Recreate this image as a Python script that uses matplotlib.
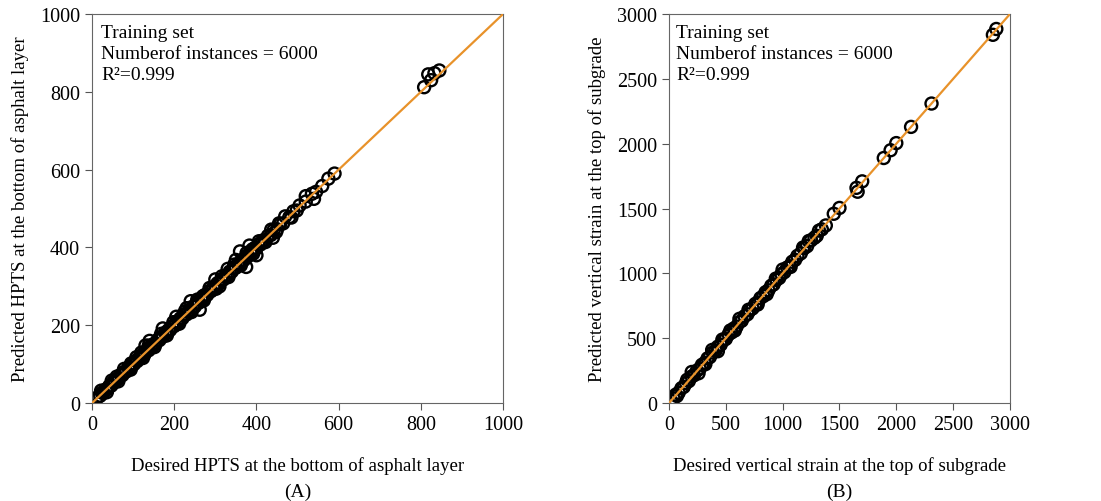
import matplotlib.pyplot as plt

plt.rcParams['font.family'] = ['Liberation Serif', 'DejaVu Serif']

# panel A: HPTS (desired vs predicted)
desired_a = [10, 15, 20, 24, 28, 33, 38, 42, 47, 52, 56, 60, 65, 70, 74, 78, 83, 88, 92, 97,
             102, 106, 110, 115, 120, 124, 128, 133, 138, 142, 146, 150, 155, 160, 164, 168,
             173, 178, 182, 186, 190, 195, 200, 205, 210, 215, 220, 225, 230, 235, 240, 245,
             250, 255, 260, 265, 270, 275, 280, 285, 290, 295, 300, 305, 310, 315, 320, 325,
             330, 335, 340, 345, 350, 355, 360, 365, 370, 375, 380, 385, 390, 395, 400, 405,
             410, 415, 420, 428, 435, 442, 450, 458, 465, 480, 490, 498, 505, 520, 535, 545,
             560, 575, 590,
             130, 140, 172, 205, 240, 262, 270, 300, 330, 360, 375, 390, 400, 383, 440, 455,
             520, 540, 120, 95, 60, 230, 310, 350,
             22, 36, 48, 64, 78, 94, 108, 124, 138, 152, 168, 182, 198, 212, 226, 242, 256,
             272, 286, 302, 316, 332, 346, 362, 376, 392, 406, 422, 436, 448, 470, 485,
             808, 818, 825, 833, 845]
predicted_a = [12, 16, 19, 27, 26, 35, 36, 44, 45, 55, 54, 62, 63, 73, 72, 80, 81, 91, 90, 99,
               100, 109, 108, 117, 118, 127, 126, 135, 136, 145, 144, 152, 153, 163, 162, 170,
               171, 181, 180, 188, 188, 198, 198, 208, 208, 218, 218, 228, 228, 238, 238, 248,
               248, 258, 258, 268, 268, 278, 278, 288, 288, 298, 298, 308, 308, 318, 318, 328,
               328, 338, 338, 348, 348, 358, 358, 368, 368, 378, 378, 388, 388, 398, 398, 408,
               408, 418, 418, 430, 432, 445, 447, 460, 462, 478, 493, 495, 508, 518, 538, 543,
               558, 577, 590,
               148, 160, 192, 222, 262, 240, 275, 318, 345, 390, 350, 395, 380, 405, 425, 462,
               532, 525, 130, 102, 68, 244, 300, 368,
               32, 28, 58, 56, 88, 86, 118, 116, 148, 144, 178, 174, 208, 204, 236, 234, 266,
               264, 296, 294, 326, 324, 356, 354, 386, 384, 416, 414, 446, 440, 480, 477,
               812, 845, 830, 848, 855]

# panel B: vertical strain (desired vs predicted)
desired_b = [15, 40, 60, 85, 110, 130, 150, 175, 200, 220, 245, 270, 290, 315, 340, 360, 385,
             410, 430, 455, 480, 500, 525, 550, 570, 595, 620, 640, 665, 690, 710, 735, 760,
             780, 805, 830, 850, 875, 900, 920, 945, 970, 990, 1015, 1040, 1060, 1085, 1110,
             1130, 1160, 1190, 1215, 1250, 1280, 1320, 1345, 1380, 1450, 1500, 1650, 1700,
             1890, 1950, 2000, 2130, 2310, 2850, 2880,
             200, 260, 380, 430, 540, 620, 780, 1000, 1180, 1300, 1660,
             70, 160, 320, 470, 580, 700, 860, 940, 1070, 1230]
predicted_b = [20, 35, 65, 80, 115, 125, 155, 170, 205, 215, 250, 265, 295, 310, 345, 355, 390,
               405, 435, 450, 485, 495, 530, 545, 575, 590, 625, 635, 670, 685, 715, 730, 765,
               775, 810, 825, 855, 870, 905, 915, 950, 965, 995, 1010, 1045, 1055, 1090, 1105,
               1135, 1155, 1195, 1210, 1255, 1275, 1330, 1340, 1370, 1460, 1505, 1660, 1710,
               1890, 1950, 2005, 2130, 2310, 2840, 2885,
               240, 230, 410, 400, 560, 650, 760, 1030, 1200, 1290, 1630,
               55, 180, 300, 490, 560, 720, 840, 960, 1050, 1250]

fig = plt.figure(figsize=(11.01, 5.02), dpi=100)
ax_a = fig.add_axes([0.0836, 0.195, 0.3733, 0.775])
ax_b = fig.add_axes([0.6076, 0.195, 0.3097, 0.775])

panels = [
    (ax_a, desired_a, predicted_a, 1000, 200,
     'Desired HPTS at the bottom of asphalt layer',
     'Predicted HPTS at the bottom of asphalt layer', '(A)'),
    (ax_b, desired_b, predicted_b, 3000, 500,
     'Desired vertical strain at the top of subgrade',
     'Predicted vertical strain at the top of subgrade', '(B)'),
]

for ax, xd, yd, lim, step, xlab, ylab, tag in panels:
    ax.scatter(xd, yd, s=75, facecolors='none', edgecolors='black', linewidths=1.7, zorder=2)
    ax.plot([0, lim], [0, lim], color='#E8922A', lw=1.6, zorder=3)
    ax.set_xlim(0, lim)
    ax.set_ylim(0, lim)
    ax.set_xticks(range(0, lim + 1, step))
    ax.set_yticks(range(0, lim + 1, step))
    ax.tick_params(labelsize=14.5, direction='out', length=5, color='#555555')
    for sp in ax.spines.values():
        sp.set_color('#666666')
    ax.set_xlabel(xlab, fontsize=13.5, labelpad=16)
    ax.set_ylabel(ylab, fontsize=13.5, labelpad=8)
    ax.text(0.5, -0.205, tag, transform=ax.transAxes, ha='center', va='top', fontsize=14)
    ax.text(0.022, 0.975, 'Training set\nNumberof instances = 6000\nR²=0.999',
            transform=ax.transAxes, ha='left', va='top', fontsize=14, linespacing=1.3)

plt.savefig('out.png')
